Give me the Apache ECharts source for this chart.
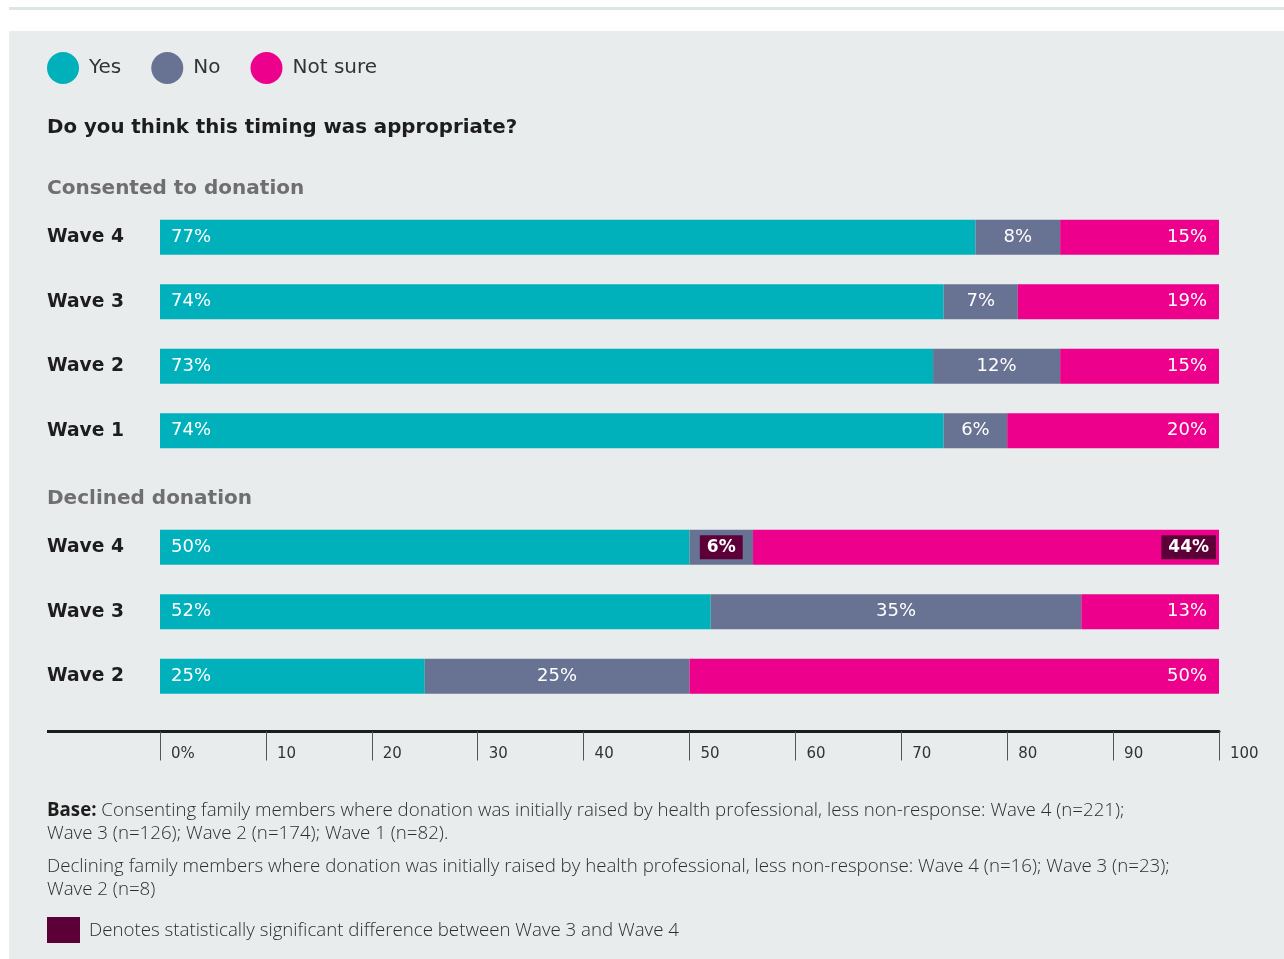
<!DOCTYPE html>
<html>
<head>
<meta charset="utf-8">
<script src="https://cdn.jsdelivr.net/npm/echarts@6/dist/echarts.min.js"></script>
<style>
  html, body { margin: 0; padding: 0; background: #ffffff; }
  #chart { width: 1284px; height: 959px; }
</style>
</head>
<body>
<div id="chart"></div>
<script>
// Survey: "Do you think this timing was appropriate?"
const seriesNames = ['Yes', 'No', 'Not sure'];

const consentedWaves = ['Wave 4', 'Wave 3', 'Wave 2', 'Wave 1'];
const consentedYes = [77, 74, 73, 74];
const consentedNo = [8, 7, 12, 6];
const consentedNotSure = [15, 19, 15, 20];

const declinedWaves = ['Wave 4', 'Wave 3', 'Wave 2'];
const declinedYes = [50, 52, 25];
const declinedNo = [6, 35, 25];
const declinedNotSure = [44, 13, 50];

// Rows whose value differs significantly between Wave 3 and Wave 4
const declinedNoSignificant = [0];
const declinedNotSureSignificant = [0];

const axisTicks = [0, 10, 20, 30, 40, 50, 60, 70, 80, 90, 100];

const COLORS = { yes: '#00b0bb', no: '#687293', notSure: '#ec008c', sig: '#5e0038' };
const FONT = '"DejaVu Sans", "Noto Sans", sans-serif';
const FOOT_FONT = '"Open Sans", "Noto Sans", sans-serif';

const valueLabel = (position, distance) => ({
  show: true,
  position: position,
  distance: distance,
  color: '#ffffff',
  fontFamily: FONT,
  fontSize: 18,
  fontWeight: 400,
  formatter: p => p.value + '%'
});

function withSignificance(values, sigRows, position, distance) {
  return values.map((v, i) => sigRows.includes(i)
    ? { value: v, label: { position: position, distance: distance, backgroundColor: COLORS.sig, padding: [4, 7, 3, 7], fontWeight: 700, fontSize: 17 } }
    : v);
}

function barSeries(name, data, color, stack, idx, label) {
  return {
    type: 'bar', name: name, stack: stack, data: data,
    xAxisIndex: idx, yAxisIndex: idx,
    barWidth: 35, itemStyle: { color: color }, label: label,
    emphasis: { disabled: true }, animation: false
  };
}

const categoryAxis = (data, idx) => ({
  type: 'category', gridIndex: idx, data: data, inverse: true,
  axisLine: { show: false }, axisTick: { show: false },
  axisLabel: { align: 'left', margin: 113, color: '#1d1d1d', fontFamily: FONT, fontWeight: 700, fontSize: 18.7, padding: [3, 0, 0, 0] }
});

const chart = echarts.init(document.getElementById('chart'), null, { renderer: 'canvas' });

chart.setOption({
  backgroundColor: '#ffffff',
  animation: false,
  legend: {
    data: seriesNames, left: 47, top: 52, padding: 0, icon: 'circle',
    itemWidth: 32, itemHeight: 32, itemGap: 30,
    textStyle: { fontFamily: FONT, fontSize: 20, color: '#333333', padding: [2, 0, 0, 5] },
    selectedMode: false
  },
  grid: [
    { left: 160, right: 65, top: 205, height: 258 },
    { left: 160, right: 65, top: 515, height: 193.5 }
  ],
  xAxis: [
    { type: 'value', gridIndex: 0, min: 0, max: 100, show: false },
    {
      type: 'value', gridIndex: 1, min: 0, max: 100, interval: 10,
      position: 'bottom', offset: 23,
      splitLine: { show: false },
      axisLine: { show: true, lineStyle: { color: '#1d1d1d', width: 3 } },
      axisTick: { show: true, length: 29, lineStyle: { color: '#555555', width: 1 } },
      axisLabel: {
        align: 'left', margin: 15, padding: [0, 0, 0, 11],
        color: '#333333', fontFamily: FONT, fontSize: 15,
        customValues: axisTicks,
        formatter: v => v === 0 ? '0%' : String(v)
      }
    }
  ],
  yAxis: [categoryAxis(consentedWaves, 0), categoryAxis(declinedWaves, 1)],
  series: [
    barSeries('Yes', consentedYes, COLORS.yes, 'consented', 0, valueLabel('insideLeft', 11)),
    barSeries('No', consentedNo, COLORS.no, 'consented', 0, valueLabel('inside', 0)),
    barSeries('Not sure', consentedNotSure, COLORS.notSure, 'consented', 0, valueLabel('insideRight', 12)),
    barSeries('Yes', declinedYes, COLORS.yes, 'declined', 1, valueLabel('insideLeft', 11)),
    barSeries('No', withSignificance(declinedNo, declinedNoSignificant, 'inside', 0), COLORS.no, 'declined', 1, valueLabel('inside', 0)),
    barSeries('Not sure', withSignificance(declinedNotSure, declinedNotSureSignificant, 'insideRight', 3), COLORS.notSure, 'declined', 1, valueLabel('insideRight', 12))
  ],
  graphic: [
    { type: 'rect', z: -10, silent: true, shape: { x: 9, y: 7, width: 1275, height: 3 }, style: { fill: '#dfe4e4' } },
    { type: 'rect', z: -10, silent: true, shape: { x: 9, y: 31, width: 1275, height: 928 }, style: { fill: '#e9eced' } },
    { type: 'text', left: 47, top: 118, style: { text: 'Do you think this timing was appropriate?', fill: '#1d1d1d', font: '700 19.8px ' + FONT } },
    { type: 'text', left: 47, top: 179, style: { text: 'Consented to donation', fill: '#6f6f6f', font: '700 20px ' + FONT } },
    { type: 'text', left: 47, top: 489, style: { text: 'Declined donation', fill: '#6f6f6f', font: '700 20px ' + FONT } },
    // extends the bottom axis rule under the row labels
    { type: 'line', silent: true, shape: { x1: 47, y1: 731.5, x2: 162, y2: 731.5 }, style: { stroke: '#1d1d1d', lineWidth: 3 } },
    {
      type: 'text', left: 47, top: 799,
      style: {
        text: '{b|Base:} Consenting family members where donation was initially raised by health professional, less non-response: Wave 4 (n=221);\nWave 3 (n=126); Wave 2 (n=174); Wave 1 (n=82).',
        fill: '#2e2e2e', font: '300 18.7px ' + FOOT_FONT, lineHeight: 23,
        rich: { b: { fontFamily: FOOT_FONT, fontWeight: 700, fontSize: 18.7, fill: '#1d1d1d', lineHeight: 23 } }
      }
    },
    {
      type: 'text', left: 47, top: 855,
      style: {
        text: 'Declining family members where donation was initially raised by health professional, less non-response: Wave 4 (n=16); Wave 3 (n=23);\nWave 2 (n=8)',
        fill: '#2e2e2e', font: '300 18.7px ' + FOOT_FONT, lineHeight: 23
      }
    },
    { type: 'rect', silent: true, shape: { x: 47, y: 917, width: 33, height: 26 }, style: { fill: COLORS.sig } },
    { type: 'text', left: 89, top: 921, style: { text: 'Denotes statistically significant difference between Wave 3 and Wave 4', fill: '#2e2e2e', font: '300 18.7px ' + FOOT_FONT } }
  ]
});
</script>
</body>
</html>
